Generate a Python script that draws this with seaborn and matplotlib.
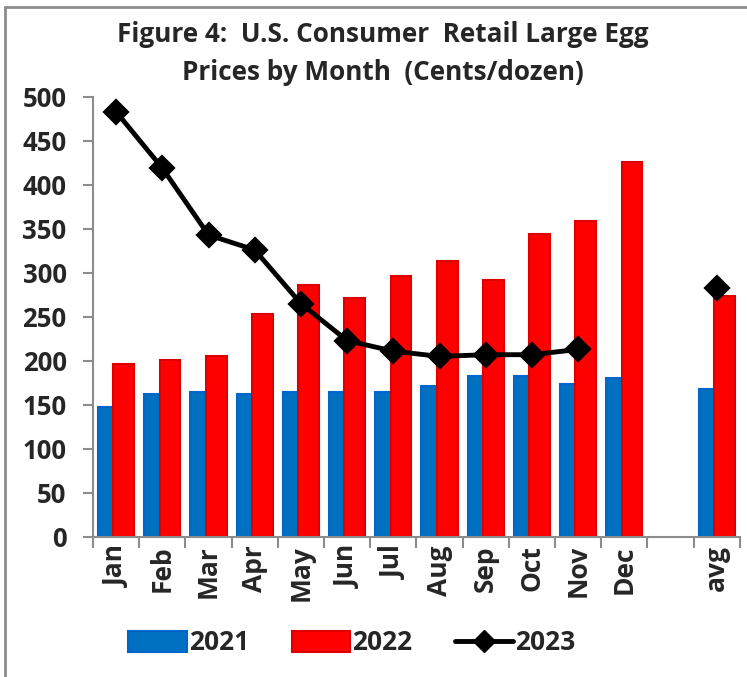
import pandas as pd
import matplotlib.pyplot as plt
import seaborn as sns
from matplotlib.lines import Line2D
from matplotlib.patches import Patch

# Category slots on the x axis (one blank slot before the average)
months = ["Jan", "Feb", "Mar", "Apr", "May", "Jun", "Jul", "Aug", "Sep", "Oct", "Nov", "Dec"]
categories = months + [" ", "avg"]
bar_labels = months + ["avg"]

# Retail prices, cents/dozen
price_2021 = [147, 162, 165, 162, 165, 165, 165, 171, 183, 183, 174, 180, 168]
price_2022 = [196, 201, 205, 253, 286, 271, 296, 314, 292, 344, 359, 426, 274]
months_2023 = months[:11]
price_2023 = [483, 419, 343, 326, 265, 223, 211, 205, 207, 207, 213]
avg_2023 = [283]

years = ["2021", "2022"]
colors = {"2021": "#0070C0", "2022": "#FF0000"}
edges = {"2021": "#0066CC", "2022": "#DD0000"}

sns.set_style("white")
plt.rcParams['font.family'] = ['Open Sans', 'DejaVu Sans']
plt.rcParams['font.weight'] = 'bold'

bars_df = pd.DataFrame({
    "cat": bar_labels * 2,
    "year": ["2021"] * len(price_2021) + ["2022"] * len(price_2022),
    "price": price_2021 + price_2022,
})
line_df = pd.DataFrame({"cat": months_2023, "price": price_2023})
avg_df = pd.DataFrame({"cat": ["avg"], "price": avg_2023})

fig = plt.figure(figsize=(7.47, 6.77), dpi=100)
ax = fig.add_axes([0.1245, 0.207, 0.866, 0.650])

sns.barplot(data=bars_df, x="cat", y="price", hue="year", order=categories,
            hue_order=years, palette=colors, width=0.9, saturation=1,
            legend=False, ax=ax)

# Excel-style overlap: pull the two bars of a group towards each other
for container, year, shift in zip(ax.containers, years, [0.058, -0.058]):
    for bar in container:
        bar.set_x(bar.get_x() + shift)
        bar.set_edgecolor(edges[year])
        bar.set_linewidth(1.5)

line_kw = dict(color="black", markers="D", errorbar=None, markersize=11,
               linewidth=3.5, ax=ax)
sns.pointplot(data=line_df, x="cat", y="price", order=categories, **line_kw)
sns.pointplot(data=avg_df, x="cat", y="price", order=categories, **line_kw)

ax.set_xlim(-0.5, len(categories) - 0.5)
ax.set_ylim(0, 500)
ax.set_yticks(range(0, 501, 50))
ax.set_xlabel("")
ax.set_ylabel("")

for side in ["top", "right"]:
    ax.spines[side].set_visible(False)
for side in ["left", "bottom"]:
    ax.spines[side].set_color("#8c8c8c")
    ax.spines[side].set_linewidth(1.5)

ax.tick_params(axis="y", labelsize=18.5, length=7, width=1.5, color="#8c8c8c",
               direction="out", left=True, pad=12)
ax.tick_params(axis="x", which="major", labelsize=19, length=0, rotation=90, pad=6)
ax.set_xticks([i - 0.5 for i in range(len(categories) + 1)], minor=True)
ax.tick_params(axis="x", which="minor", length=8, width=1.5, color="#8c8c8c",
               direction="out", bottom=True)
for lab in ax.get_xticklabels() + ax.get_yticklabels():
    lab.set_fontweight("bold")

fig.text(0.512, 1 - 35 / 677, "Figure 4:  U.S. Consumer  Retail Large Egg",
         ha="center", va="center", fontsize=18.8, fontweight="bold")
fig.text(0.512, 1 - 72 / 677, "Prices by Month  (Cents/dozen)",
         ha="center", va="center", fontsize=18.8, fontweight="bold")

handles = [
    Patch(facecolor=colors["2021"], edgecolor=edges["2021"], linewidth=1.5),
    Patch(facecolor=colors["2022"], edgecolor=edges["2022"], linewidth=1.5),
    Line2D([], [], color="black", marker="D", markersize=11, linewidth=3.5),
]
fig.legend(handles, ["2021", "2022", "2023"], loc="center",
           bbox_to_anchor=(352 / 747, 1 - 643 / 677), ncol=3, frameon=False,
           handlelength=2.2, handleheight=0.85,
           handletextpad=0.1, columnspacing=1.6,
           prop={"weight": "bold", "size": 19})

# Chart-area border (top and left edges visible in the reference)
fig.add_artist(Line2D([5 / 747, 1], [1 - 7 / 677, 1 - 7 / 677],
                      transform=fig.transFigure, color="#8c8c8c", lw=2))
fig.add_artist(Line2D([5 / 747, 5 / 747], [0, 1 - 7 / 677],
                      transform=fig.transFigure, color="#8c8c8c", lw=2))

fig.savefig("out.png", dpi=100)
